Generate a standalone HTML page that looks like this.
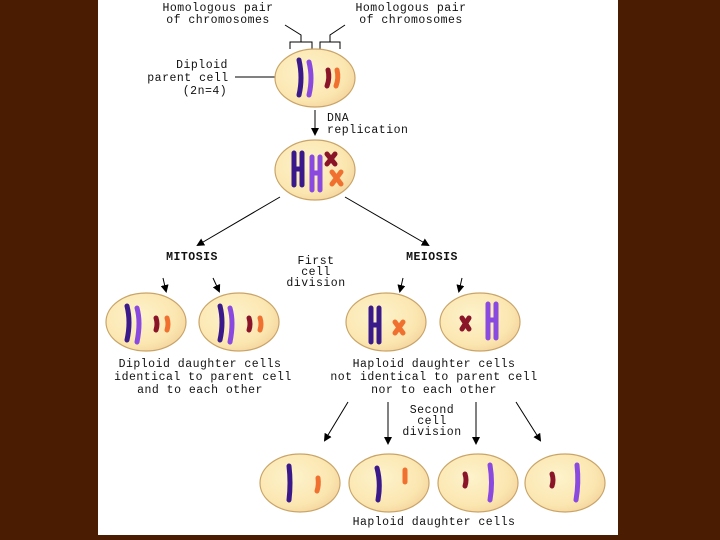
<!DOCTYPE html>
<html><head><style>
body{margin:0;background:#4a1c02;width:720px;height:540px;overflow:hidden}
svg{display:block}
text{font-family:"Liberation Mono","DejaVu Sans Mono",monospace;font-size:11.5px;fill:#111;letter-spacing:0.5px}
</style></head><body>
<svg width="720" height="540" xmlns="http://www.w3.org/2000/svg">
<defs>
<radialGradient id="g" cx="0.4" cy="0.4" r="0.7"><stop offset="0" stop-color="#fdf3cc"/><stop offset="0.7" stop-color="#fbe6b0"/><stop offset="1" stop-color="#f3d09a"/></radialGradient>
<marker id="a" markerWidth="8" markerHeight="8" refX="6" refY="4" orient="auto" markerUnits="userSpaceOnUse"><path d="M0,0 L8,4 L0,8 Z" fill="#000"/></marker>
</defs>
<rect x="98" y="0" width="520" height="535" fill="#fff"/>
<g text-anchor="middle">
<text x="218" y="11">Homologous pair</text><text x="218" y="23">of chromosomes</text>
<text x="411" y="11">Homologous pair</text><text x="411" y="23">of chromosomes</text>
<text x="202" y="68">Diploid</text><text x="188" y="81">parent cell</text><text x="205" y="94">(2n=4)</text>
<text x="192" y="260" font-weight="bold">MITOSIS</text>
<text x="432" y="260" font-weight="bold">MEIOSIS</text>
<text x="316" y="264" font-size="10">First</text><text x="316" y="275" font-size="10">cell</text><text x="316" y="286" font-size="10">division</text>
<text x="200" y="367">Diploid daughter cells</text><text x="203" y="380">identical to parent cell</text><text x="200" y="393">and to each other</text>
<text x="434" y="367">Haploid daughter cells</text><text x="434" y="380">not identical to parent cell</text><text x="434" y="393">nor to each other</text>
<text x="432" y="413" font-size="10">Second</text><text x="432" y="424" font-size="10">cell</text><text x="432" y="435" font-size="10">division</text>
<text x="434" y="525">Haploid daughter cells</text>
</g>
<text x="327" y="121">DNA</text><text x="327" y="133">replication</text>
<g stroke="#000" fill="none" stroke-width="1">
<path d="M290,49 V42 H312 V49 M301,42 V35 L285,25"/>
<path d="M320,49 V42 H340 V49 M330,42 V35 L345,25"/>
<path d="M235,77 H275"/>
<path d="M315,110 V134" marker-end="url(#a)"/>
<path d="M280,197 L198,245" marker-end="url(#a)"/>
<path d="M345,197 L428,245" marker-end="url(#a)"/>
<path d="M163,278 L166,291" marker-end="url(#a)"/>
<path d="M213,278 L219,291" marker-end="url(#a)"/>
<path d="M403,278 L400,291" marker-end="url(#a)"/>
<path d="M462,278 L459,291" marker-end="url(#a)"/>
<path d="M348,402 L325,440" marker-end="url(#a)"/>
<path d="M388,402 V443" marker-end="url(#a)"/>
<path d="M476,402 V443" marker-end="url(#a)"/>
<path d="M516,402 L540,440" marker-end="url(#a)"/>
</g>
<g fill="url(#g)" stroke="#c9a468" stroke-width="1.2">
<ellipse cx="315" cy="78" rx="40" ry="29"/>
<ellipse cx="315" cy="170" rx="40" ry="30"/>
<ellipse cx="146" cy="322" rx="40" ry="29"/>
<ellipse cx="239" cy="322" rx="40" ry="29"/>
<ellipse cx="386" cy="322" rx="40" ry="29"/>
<ellipse cx="480" cy="322" rx="40" ry="29"/>
<ellipse cx="300" cy="483" rx="40" ry="29"/>
<ellipse cx="389" cy="483" rx="40" ry="29"/>
<ellipse cx="478" cy="483" rx="40" ry="29"/>
<ellipse cx="565" cy="483" rx="40" ry="29"/>
</g>
<g fill="none" stroke-linecap="round" stroke-width="5">
<path d="M299,60 Q303,78 299,95" stroke="#3a1a8a"/><path d="M309,62 Q313,78 309,95" stroke="#8a4ae0"/>
<path d="M328,70 Q330,78 327,86" stroke="#8a1428"/><path d="M337,70 Q339,78 336,86" stroke="#f07030"/>
<path d="M294,153 V185 M302,153 V185 M294,169 H302" stroke="#3a1a8a"/>
<path d="M312,157 V190 M320,157 V190 M312,173 H320" stroke="#8a4ae0"/>
<path d="M327,154 L335,164 M335,154 L327,164" stroke="#8a1428"/>
<path d="M332,172 L341,184 M341,172 L332,184" stroke="#f07030"/>
<path d="M127,306 Q131,322 127,340" stroke="#3a1a8a"/><path d="M137,308 Q141,322 137,342" stroke="#8a4ae0"/>
<path d="M156,318 Q158,324 156,330" stroke="#8a1428"/><path d="M167,318 Q169,324 167,330" stroke="#f07030"/>
<path d="M220,306 Q224,322 220,340" stroke="#3a1a8a"/><path d="M230,308 Q234,322 230,342" stroke="#8a4ae0"/>
<path d="M249,318 Q251,324 249,330" stroke="#8a1428"/><path d="M260,318 Q262,324 260,330" stroke="#f07030"/>
<path d="M371,308 V342 M379,308 V342 M371,325 H379" stroke="#3a1a8a"/>
<path d="M395,322 L403,333 M403,322 L395,333" stroke="#f07030"/>
<path d="M462,318 L469,329 M469,318 L462,329" stroke="#8a1428"/>
<path d="M488,304 V338 M496,304 V338 M488,320 H496" stroke="#8a4ae0"/>
<path d="M289,466 Q291,483 289,500" stroke="#3a1a8a"/><path d="M318,478 Q319,485 317,491" stroke="#f07030"/>
<path d="M377,468 Q381,483 378,500" stroke="#3a1a8a"/><path d="M405,470 V482" stroke="#f07030"/>
<path d="M465,474 Q467,480 465,486" stroke="#8a1428"/><path d="M490,465 Q493,483 490,500" stroke="#8a4ae0"/>
<path d="M552,474 Q554,480 552,486" stroke="#8a1428"/><path d="M577,465 Q579,483 576,500" stroke="#8a4ae0"/>
</g>
</svg>
</body></html>
